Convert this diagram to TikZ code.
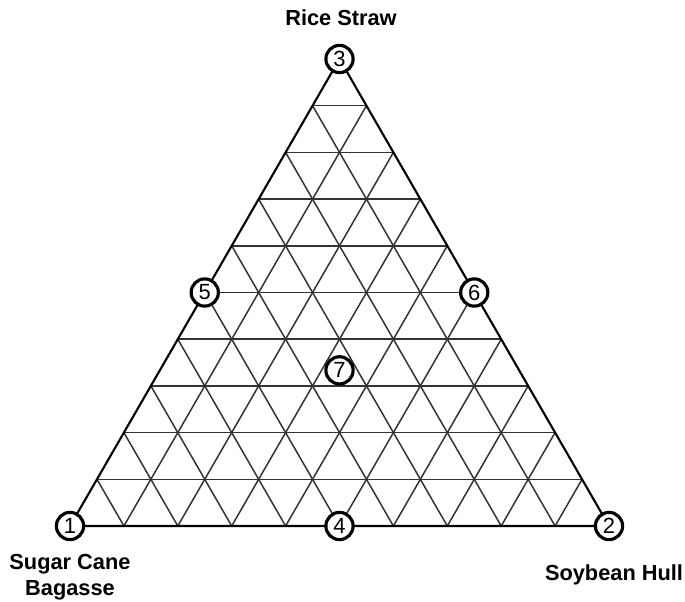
\documentclass[tikz,border=0pt]{standalone}
\usepackage{fontspec}
\setmainfont{Liberation Sans}
\usepackage{tikz}
\usetikzlibrary{calc}

\begin{document}
\begin{tikzpicture}[
    x=0.02cm, y=-0.02cm,
    pt/.style={draw, circle, line width=1.8pt, fill=white, inner sep=0pt, minimum size=15.5pt, font=\fontsize{12.5}{13}\selectfont},
    grid/.style={draw=black!80, line width=0.85pt},
    edge/.style={draw=black, line width=1.2pt, line join=round},
    lbl/.style={font=\fontsize{12.4}{15}\selectfont\bfseries, align=center}
]
\useasboundingbox (0,0) rectangle (685,601);

% Corners of the mixture triangle
\coordinate (A) at (70,526);
\coordinate (B) at (609,526);
\coordinate (C) at (339.5,59);

% Grid lines, ten steps per side
\foreach \i in {1,...,9} {
    \draw[grid] ($(A)!\i/10!(C)$) -- ($(B)!\i/10!(C)$);
    \draw[grid] ($(A)!\i/10!(B)$) -- ($(C)!\i/10!(B)$);
    \draw[grid] ($(B)!\i/10!(A)$) -- ($(C)!\i/10!(A)$);
}

% Outline
\draw[edge] (A) -- (B) -- (C) -- cycle;

% Design points
\node[pt] (p1) at (A) {1};
\node[pt] (p2) at (B) {2};
\node[pt] (p3) at (C) {3};
\node[pt] (p4) at ($(A)!0.5!(B)$) {4};
\node[pt] (p5) at ($(A)!0.5!(C)$) {5};
\node[pt] (p6) at ($(B)!0.5!(C)$) {6};
\node[pt] (p7) at ($(p4)!1/3!(C)$) {7};

% Component labels
\node[lbl] (rs) at (341,18) {Rice Straw};
\node[lbl] (sc) at (70,577) {Sugar Cane\\Bagasse};
\node[lbl] (sh) at (614,575) {Soybean Hull};

\end{tikzpicture}
\end{document}
